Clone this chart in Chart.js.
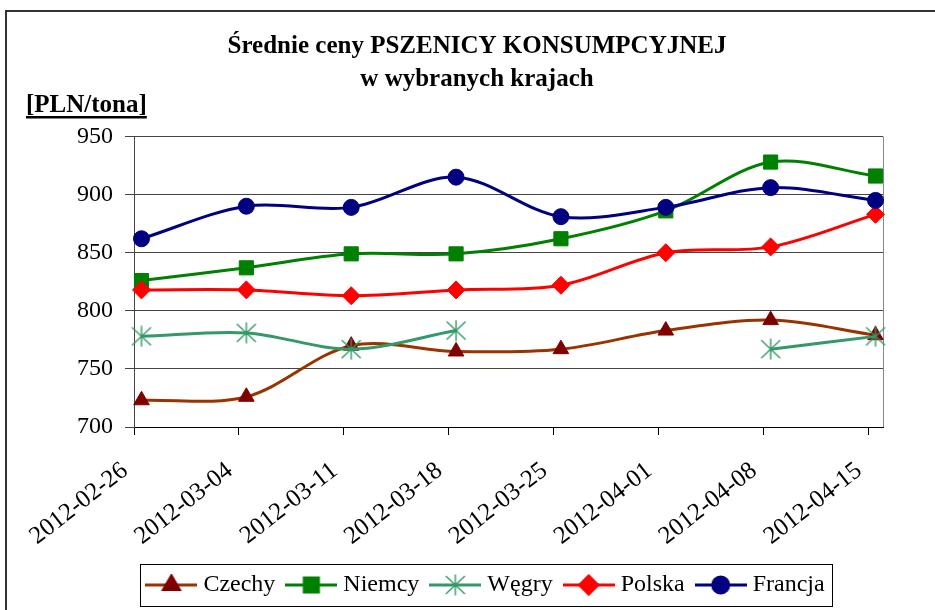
<!DOCTYPE html>
<html>
<head>
<meta charset="utf-8">
<script src="https://cdn.jsdelivr.net/npm/chart.js@4/dist/chart.umd.min.js"></script>
<style>
  html, body { margin: 0; padding: 0; background: #fff; }
  #chart { display: block; }
</style>
</head>
<body>
<canvas id="chart" width="935" height="610"></canvas>
<script>
const dates = ["2012-02-26", "2012-03-04", "2012-03-11", "2012-03-18", "2012-03-25", "2012-04-01", "2012-04-08", "2012-04-15"];
const czechy  = [723, 726, 770, 765, 767, 783, 792, 779];
const niemcy  = [826, 837, 849, 849, 862, 886, 928, 916];
const wegry   = [778, 781, 767, 783, null, null, 767, 778];
const polska  = [818, 818, 813, 818, 822, 850, 855, 883];
const francja = [862, 890, 889, 915, 881, 889, 906, 895];
const yTicks  = [700, 750, 800, 850, 900, 950];

const FONT = "'Liberation Serif', 'Times New Roman', serif";
Chart.defaults.font.family = FONT;
Chart.defaults.color = "#000";

// days since first date; Excel puts each point in the middle of its day
const DAY = 86400000;
const t0 = Date.parse(dates[0]);
const tickDays = dates.map(d => Math.round((Date.parse(d) - t0) / DAY));
const pts = vals => vals.map((v, i) => ({ x: tickDays[i] + 0.5, y: v }));

function starIcon(color) {
  const c = document.createElement("canvas");
  c.width = 22; c.height = 22;
  const g = c.getContext("2d");
  g.strokeStyle = color;
  g.lineWidth = 1.4;
  g.beginPath();
  g.moveTo(1.5, 2); g.lineTo(20.5, 20);
  g.moveTo(20.5, 2); g.lineTo(1.5, 20);
  g.moveTo(11, 0.5); g.lineTo(11, 21.5);
  g.stroke();
  return c;
}

function legendIcon(lineColor, markColor, style, radius) {
  const c = document.createElement("canvas");
  c.width = 52; c.height = 22;
  const g = c.getContext("2d");
  g.strokeStyle = lineColor;
  g.lineWidth = 3;
  g.beginPath(); g.moveTo(0, 11); g.lineTo(52, 11); g.stroke();
  g.fillStyle = markColor;
  g.strokeStyle = markColor;
  Chart.helpers.drawPoint(g, { pointStyle: style, radius: radius, rotation: 0, borderWidth: 1 }, 26, 11);
  return c;
}

const star = starIcon("#339966");

const series = [
  { label: "Czechy",  data: czechy,  line: "#993300", mark: "#800000", style: "triangle", r: 9 },
  { label: "Niemcy",  data: niemcy,  line: "#008000", mark: "#008000", style: "rect",     r: 10 },
  { label: "Węgry",   data: wegry,   line: "#339966", mark: "#339966", style: star,       r: 10 },
  { label: "Polska",  data: polska,  line: "#ff0000", mark: "#ff0000", style: "rectRot",  r: 9 },
  { label: "Francja", data: francja, line: "#000080", mark: "#000080", style: "circle",   r: 8 }
];
const icons = series.map(s => legendIcon(s.line, s.mark, s.style, s.r));

const extras = {
  id: "extras",
  afterLayout(chart) {
    const lg = chart.legend;
    lg.left += 11; lg.right += 11;
    lg.top = 557; lg.bottom = lg.top + lg.height;
  },
  beforeDraw(chart) {
    const ctx = chart.ctx;
    ctx.save();
    ctx.fillStyle = "#fff";
    ctx.fillRect(0, 0, chart.width, chart.height);
    ctx.strokeStyle = "#333";
    ctx.lineWidth = 2;
    ctx.beginPath();
    ctx.moveTo(6, chart.height); ctx.lineTo(6, 11); ctx.lineTo(chart.width, 11);
    ctx.stroke();
    // unit label
    ctx.fillStyle = "#000";
    ctx.font = "bold 25px " + FONT;
    ctx.textBaseline = "alphabetic";
    const txt = "[PLN/tona]";
    ctx.fillText(txt, 26, 112);
    const w = ctx.measureText(txt).width;
    ctx.fillRect(26, 116, w, 2.5);
    ctx.restore();
  },
  beforeDatasetsDraw(chart) {
    const { ctx, chartArea: a } = chart;
    ctx.save();
    ctx.strokeStyle = "#888";
    ctx.lineWidth = 1;
    ctx.beginPath();
    ctx.moveTo(Math.round(a.right) + 0.5, a.top);
    ctx.lineTo(Math.round(a.right) + 0.5, a.bottom);
    ctx.stroke();
    ctx.restore();
  },
  afterDraw(chart) {
    const hb = chart.legend.legendHitBoxes;
    if (!hb || !hb.length) return;
    const first = hb[0], last = hb[hb.length - 1];
    const cy = first.top + first.height / 2;
    const ctx = chart.ctx;
    ctx.save();
    ctx.strokeStyle = "#000";
    ctx.lineWidth = 1;
    const x0 = Math.round(first.left - 11) + 0.5;
    const x1 = Math.round(last.left + last.width + 7) + 0.5;
    ctx.strokeRect(x0, Math.round(cy - 21) + 0.5, x1 - x0, 42);
    ctx.restore();
  }
};

new Chart(document.getElementById("chart"), {
  type: "line",
  data: {
    datasets: series.map((s, i) => ({
      label: s.label,
      data: pts(s.data),
      borderColor: s.line,
      backgroundColor: s.mark,
      borderWidth: 3,
      tension: 0.33,
      spanGaps: false,
      pointStyle: s.style,
      pointRadius: s.r,
      pointHoverRadius: s.r,
      pointBackgroundColor: s.mark,
      pointBorderColor: s.mark,
      pointBorderWidth: 1,
      clip: false,
      order: series.length - i
    }))
  },
  options: {
    responsive: false,
    animation: false,
    layout: { padding: { left: 71, right: 52, top: 0, bottom: 0 } },
    scales: {
      x: {
        type: "linear",
        min: 0,
        max: tickDays[tickDays.length - 1] + 1,
        afterBuildTicks: scale => { scale.ticks = tickDays.map(v => ({ value: v })); },
        afterFit: scale => { scale.height = 133; },
        ticks: {
          font: { size: 25 },
          color: "#000",
          minRotation: 38,
          maxRotation: 38,
          padding: 21,
          labelOffset: -9,
          autoSkip: false,
          callback: (v, i) => dates[i]
        },
        grid: { display: true, drawOnChartArea: false, drawTicks: true, tickLength: 8, color: "#000" },
        border: { display: true, color: "#000", width: 1 }
      },
      y: {
        min: 700,
        max: 950,
        afterBuildTicks: scale => { scale.ticks = yTicks.map(v => ({ value: v })); },
        afterFit: scale => { scale.width = 63; },
        ticks: { font: { size: 24 }, color: "#000", padding: 12 },
        grid: { color: "#444", tickLength: 9, lineWidth: 1 },
        border: { display: true, color: "#444", width: 1 }
      }
    },
    plugins: {
      title: {
        display: true,
        text: ["Średnie ceny PSZENICY KONSUMPCYJNEJ", "w wybranych krajach"],
        color: "#000",
        font: { size: 25, weight: "bold", lineHeight: 1.32 },
        padding: { top: 30.5, bottom: 40 }
      },
      legend: {
        position: "bottom",
        labels: {
          usePointStyle: true,
          pointStyleWidth: 40,
          padding: 16,
          color: "#000",
          font: { size: 24 },
          generateLabels: chart => chart.data.datasets.map((ds, i) => ({
            text: ds.label,
            pointStyle: icons[i],
            fillStyle: "transparent",
            strokeStyle: "transparent",
            lineWidth: 0,
            hidden: false,
            datasetIndex: i,
            fontColor: "#000"
          }))
        }
      },
      tooltip: { enabled: false }
    }
  },
  plugins: [extras]
});
</script>
</body>
</html>
